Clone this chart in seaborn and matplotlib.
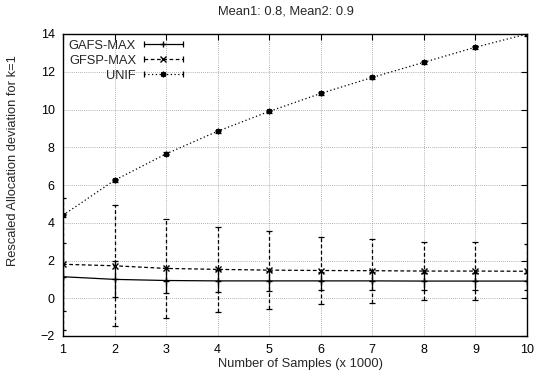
import numpy as np
import pandas as pd
import matplotlib
matplotlib.use("Agg")
import matplotlib.pyplot as plt
import seaborn as sns
from matplotlib.lines import Line2D
from matplotlib.legend_handler import HandlerBase

# ---- data ----
samples = [1, 2, 3, 4, 5, 6, 7, 8, 9, 10]
gafs = [1.14, 1.0, 0.94, 0.92, 0.92, 0.92, 0.92, 0.91, 0.91, 0.91]
gafs_err = [1.8, 0.95, 0.65, 0.58, 0.52, 0.46, 0.46, 0.45, 0.45, 0.45]
gfsp = [1.8, 1.72, 1.58, 1.53, 1.49, 1.47, 1.46, 1.44, 1.44, 1.43]
gfsp_err = [3.5, 3.2, 2.6, 2.26, 2.06, 1.8, 1.7, 1.55, 1.55, 1.42]
unif = [4.4, 6.25, 7.65, 8.85, 9.9, 10.85, 11.7, 12.5, 13.3, 14.0]
unif_err = [0.08, 0.08, 0.08, 0.08, 0.08, 0.08, 0.08, 0.08, 0.08, 0.08]
series_names = ["GAFS-MAX", "GFSP-MAX", "UNIF"]
x_ticks = [1, 2, 3, 4, 5, 6, 7, 8, 9, 10]
y_ticks = [-2, 0, 2, 4, 6, 8, 10, 12, 14]

sns.set_style("white")
plt.rcParams['font.family'] = ['Liberation Sans', 'DejaVu Sans']

fig = plt.figure(figsize=(5.37, 3.79), dpi=100)
ax = fig.add_axes([63/537, 1-336/379, (527-63)/537, (336-34)/379])

df = pd.DataFrame({
    "x": samples * 3,
    "y": gafs + gfsp + unif,
    "err": gafs_err + gfsp_err + unif_err,
    "series": [series_names[0]]*10 + [series_names[1]]*10 + [series_names[2]]*10,
})

styles = {
    "GAFS-MAX": dict(ls="-", marker="+", ms=5),
    "GFSP-MAX": dict(ls=(0, (3, 2)), marker="x", ms=4),
    "UNIF": dict(ls=(0, (1, 2)), marker=(8, 2, 0), ms=4),
}


class GnuErrHandler(HandlerBase):
    def __init__(self, ls, marker, ms):
        super().__init__()
        self.ls, self.marker, self.ms = ls, marker, ms

    def create_artists(self, legend, orig_handle, xdescent, ydescent, width, height, fontsize, trans):
        y = height / 2 - ydescent
        x0, x1 = -xdescent, width - xdescent
        line = Line2D([x0, x1], [y, y], color="black", lw=0.9, linestyle=self.ls,
                      marker="|", ms=5, mew=0.9, transform=trans)
        cen = Line2D([(x0 + x1) / 2], [y], color="black", linestyle="none",
                     marker=self.marker, ms=self.ms, mew=1.0, transform=trans)
        return [line, cen]


handles = []
hmap = {}
for name in series_names:
    sub = df[df.series == name]
    st = styles[name]
    sns.lineplot(data=sub, x="x", y="y", ax=ax, color="black", lw=0.9,
                 linestyle=st["ls"], marker=st["marker"], markersize=st["ms"],
                 markeredgecolor="black", markerfacecolor="black",
                 markeredgewidth=1.0, legend=False, estimator=None, sort=False)
    eb = ax.errorbar(sub.x, sub.y, yerr=sub.err, fmt="none", ecolor="black",
                     elinewidth=0.9, capsize=2, capthick=0.9)
    eb[2][0].set_linestyle(st["ls"])
    h = Line2D([], [], color="black")
    hmap[h] = GnuErrHandler(st["ls"], st["marker"], st["ms"])
    handles.append(h)

ax.set_xlim(1, 10)
ax.set_ylim(-2, 14)
ax.set_xticks(x_ticks)
ax.set_yticks(y_ticks)
ax.tick_params(direction="in", length=4, width=0.8, top=True, right=True,
               labelsize=9, colors="black", pad=6)
ax.grid(True, color="#999999", linestyle=(0, (1, 1.5)), linewidth=0.6)
for s in ax.spines.values():
    s.set_visible(True)
    s.set_color("black")
    s.set_linewidth(1.0)
ax.set_xlabel("")
ax.set_ylabel("")

leg = ax.legend(handles, series_names, handler_map=hmap, loc="upper left",
                bbox_to_anchor=(0.0, 1.0), frameon=False, markerfirst=False,
                fontsize=9.3, handlelength=3.0, handletextpad=0.6,
                labelspacing=0.22, borderaxespad=0.05)

fig.text(286/537, 1-12/379, "Mean1: 0.8, Mean2: 0.9", ha="center", va="center", fontsize=9.3)
fig.text(301/537, 1-364/379, "Number of Samples (x 1000)", ha="center", va="center", fontsize=9.3)
fig.text(13/537, 1-161/379, "Rescaled Allocation deviation for k=1", ha="center", va="center",
         rotation=90, fontsize=9.3)

fig.savefig("out.png", dpi=100)
